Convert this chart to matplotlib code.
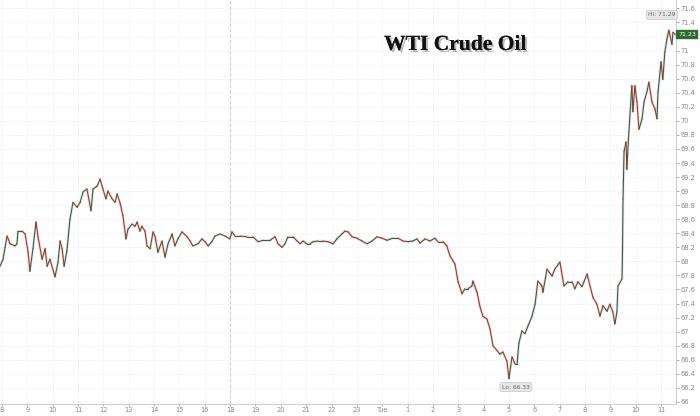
import numpy as np
import matplotlib
matplotlib.use("Agg")
import matplotlib.pyplot as plt
from matplotlib.collections import LineCollection
import matplotlib.patheffects as pe

# ---- data: time in session-hour index (0 = 08:00 first day, gap at 17:00 removed) ----
hours = [
    -0.08, 0.04, 0.12, 0.20, 0.32, 0.51, 0.59, 0.63, 0.79, 0.91, 1.03, 1.10, 1.22, 1.34, 1.42,
    1.58, 1.70, 1.78, 1.89, 2.09, 2.21, 2.29, 2.37, 2.45, 2.56, 2.68, 2.80, 2.96, 3.08, 3.20,
    3.35, 3.51, 3.59, 3.75, 3.87, 3.98, 4.10, 4.18, 4.34, 4.46, 4.54, 4.65, 4.77, 4.89, 4.97,
    5.13, 5.25, 5.33, 5.44, 5.52, 5.64, 5.72, 5.84, 5.96, 6.04, 6.15, 6.31, 6.43, 6.55, 6.71,
    6.82, 6.94, 7.10, 7.30, 7.42, 7.53, 7.73, 7.89, 8.01, 8.13, 8.28, 8.40, 8.60, 8.80, 8.99,
    9.07, 9.19, 9.39, 9.66, 9.90, 10.10, 10.30, 10.57, 10.77, 10.89, 11.05, 11.16, 11.28, 11.48,
    11.64, 11.76, 11.87, 12.03, 12.15, 12.27, 12.47, 12.66, 12.86, 13.06, 13.21, 13.41, 13.53,
    13.65, 13.81, 14.00, 14.20, 14.40, 14.60, 14.79, 14.99, 15.19, 15.42, 15.62, 15.82, 16.02,
    16.21, 16.37, 16.49, 16.69, 16.88, 17.08, 17.20, 17.40, 17.55, 17.67, 17.79, 17.87, 17.99,
    18.15, 18.26, 18.38, 18.54, 18.58, 18.74, 18.86, 18.97, 19.13, 19.25, 19.37, 19.53, 19.64,
    19.76, 19.92, 20.00, 20.12, 20.24, 20.32, 20.39, 20.51, 20.63, 20.75, 20.91, 21.03, 21.14,
    21.30, 21.34, 21.50, 21.70, 21.81, 22.01, 22.17, 22.33, 22.49, 22.60, 22.72, 22.88, 22.96,
    23.08, 23.20, 23.31, 23.47, 23.59, 23.71, 23.87, 23.98, 24.10, 24.18, 24.26, 24.30, 24.46,
    24.48, 24.50, 24.54, 24.62, 24.65, 24.73, 24.85, 24.89, 24.97, 25.05, 25.13, 25.25, 25.33,
    25.44, 25.52, 25.64, 25.76, 25.84, 25.88, 26.00, 26.07, 26.15, 26.23, 26.31, 26.43, 26.47,
    26.55,
]
prices = [
    67.93, 68.03, 68.20, 68.36, 68.25, 68.22, 68.25, 68.43, 68.43, 68.39, 68.13, 67.86, 68.18, 68.56, 68.35,
    68.03, 68.18, 67.93, 68.03, 67.78, 67.99, 68.29, 68.18, 67.93, 68.15, 68.60, 68.84, 68.77, 68.84, 68.99,
    69.03, 68.72, 69.03, 69.07, 69.17, 69.03, 68.89, 69.00, 68.89, 68.84, 68.96, 68.84, 68.65, 68.32, 68.46,
    68.53, 68.50, 68.56, 68.43, 68.50, 68.43, 68.22, 68.18, 68.42, 68.35, 68.13, 68.29, 68.06, 68.25, 68.39,
    68.22, 68.32, 68.42, 68.35, 68.29, 68.22, 68.25, 68.32, 68.28, 68.22, 68.28, 68.36, 68.39, 68.36, 68.32,
    68.42, 68.36, 68.36, 68.35, 68.35, 68.28, 68.30, 68.30, 68.35, 68.25, 68.20, 68.25, 68.35, 68.35,
    68.29, 68.25, 68.29, 68.25, 68.25, 68.28, 68.29, 68.29, 68.28, 68.25, 68.32, 68.39, 68.43,
    68.42, 68.35, 68.33, 68.29, 68.25, 68.29, 68.35, 68.33, 68.30, 68.33, 68.33, 68.29, 68.28,
    68.29, 68.32, 68.26, 68.32, 68.29, 68.33, 68.28, 68.28, 68.22, 68.08, 68.01, 67.96, 67.71,
    67.54, 67.61, 67.61, 67.65, 67.72, 67.56, 67.35, 67.22, 67.18, 67.04, 66.80, 66.73, 66.68,
    66.71, 66.58, 66.33, 66.64, 66.54, 66.54, 66.83, 67.01, 66.97, 67.08, 67.22, 67.39, 67.72,
    67.65, 67.56, 67.89, 67.79, 67.89, 67.99, 67.65, 67.71, 67.71, 67.61, 67.71, 67.64, 67.71,
    67.82, 67.65, 67.49, 67.39, 67.22, 67.37, 67.29, 67.39, 67.28, 67.11, 67.28, 67.65, 67.75,
    68.18, 68.89, 69.56, 69.70, 69.31, 69.84, 70.50, 70.13, 70.50, 70.27, 69.88, 70.03, 70.27,
    70.41, 70.55, 70.27, 70.17, 70.03, 70.41, 70.84, 70.59, 70.98, 71.16, 71.29, 71.09, 71.26,
    71.23,
]
x_tick_labels = ['8', '9', '10', '11', '12', '13', '14', '15', '16', '18', '19', '20', '21', '22',
                 '23', 'Tue', '1', '2', '3', '4', '5', '6', '7', '8', '9', '10', '11']
session_break_label = '18'
title = 'WTI Crude Oil'

hours = np.array(hours)
prices = np.array(prices)

fig = plt.figure(figsize=(7.0, 4.16), dpi=100)
ax = fig.add_axes([0.0, 12 / 416, 676 / 700, 1 - 12 / 416])
ax.set_xlim(-0.08, 26.59)
ax.set_ylim(65.97, 71.72)

# ticks and grid
yticks = np.round(np.arange(66.0, 71.61, 0.2), 1)
ax.set_yticks(yticks)
# the last-price tag covers the nearest tick label, as in the source chart
ax.set_yticklabels(['' if abs(v - prices[-1]) < 0.1 else '%g' % v for v in yticks])
ax.set_xticks(np.arange(len(x_tick_labels)))
ax.set_xticklabels(x_tick_labels)
ax.grid(True, color='#e6e6e6', linestyle=(0, (1, 2)), linewidth=0.6)
ax.set_axisbelow(True)
ax.axvline(x_tick_labels.index(session_break_label), color='#d0d0d0', linestyle=(0, (3, 2)),
           linewidth=0.8, zorder=1)

ax.yaxis.tick_right()
ax.tick_params(axis='both', labelsize=4.8, colors='#8a8a8a', length=2, width=0.5, pad=1.5)
ax.tick_params(axis='x', length=1.5, pad=1)
for side in ['top', 'left']:
    ax.spines[side].set_visible(False)
for side in ['bottom', 'right']:
    ax.spines[side].set_color('#cccccc')
    ax.spines[side].set_linewidth(0.7)

# price line (halo + up/down coloured segments)
ax.plot(hours, prices, color='#b0b0b0', linewidth=2.0, alpha=0.3, zorder=2, solid_joinstyle='round')
pts = np.column_stack([hours, prices])
segs = np.stack([pts[:-1], pts[1:]], axis=1)
cols = np.where(np.diff(prices) >= 0, '#3f5a42', '#a83322')
lc = LineCollection(segs, colors=cols, linewidths=0.8, zorder=3, capstyle='round', joinstyle='round')
ax.add_collection(lc)

# hi / lo annotations
ihi = int(np.argmax(prices))
ilo = int(np.argmin(prices))
bbox_kw = dict(boxstyle='round,pad=0.35', fc='#e6e6e6', ec='#c8c8c8', lw=0.5)
ax.annotate('Hi: %.2f' % prices[ihi], xy=(hours[ihi], prices[ihi]), xytext=(-5, 11),
            textcoords='offset points', ha='center', va='center', fontsize=4.3,
            color='#666666', bbox=bbox_kw, zorder=5)
ax.annotate('Lo: %.2f' % prices[ilo], xy=(hours[ilo], prices[ilo]), xytext=(5, -6),
            textcoords='offset points', ha='center', va='center', fontsize=4.3,
            color='#666666', bbox=bbox_kw, zorder=5)

# last price tag
ax.text(1.003, prices[-1], '%.2f' % prices[-1], transform=ax.get_yaxis_transform(),
        ha='left', va='center', fontsize=4.5, color='white',
        bbox=dict(boxstyle='square,pad=0.25', fc='#2e6b2e', ec='#2e6b2e'), zorder=6, clip_on=False)

# title with shadow
fig.text(0.65, 0.892, title, ha='center', va='center', fontsize=15.5, fontweight='bold',
         family='Liberation Serif', color='#111111',
         path_effects=[pe.withSimplePatchShadow(offset=(1.5, -1.5), shadow_rgbFace='#666666', alpha=0.45),
                       pe.Normal()])

fig.savefig('out.png', dpi=100)
